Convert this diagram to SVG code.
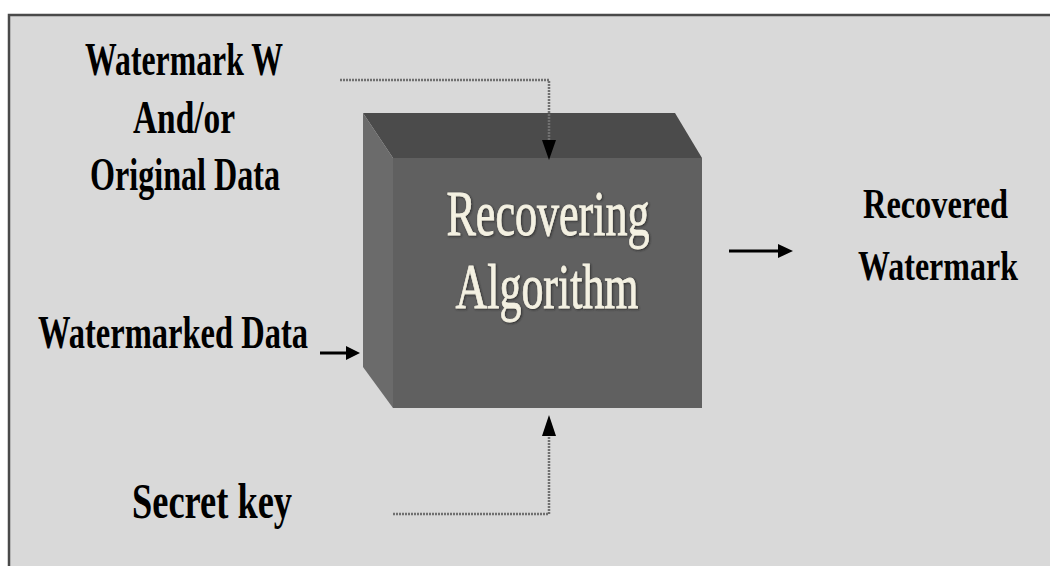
<svg xmlns="http://www.w3.org/2000/svg" width="1050" height="566" viewBox="0 0 1050 566">
<defs>
<style>
.lbl{font-family:"Liberation Serif","Times New Roman",serif;font-weight:bold;fill:#000}
.box{font-family:"Liberation Serif","Times New Roman",serif;fill:#f4f1e2;stroke:#f4f1e2;stroke-width:0.8;font-size:64px}
.conn{fill:none;stroke:#707070;stroke-width:2.5;stroke-dasharray:2 1}
.thick{fill:none;stroke:#000;stroke-width:3}
</style>
<filter id="sh" x="-5%" y="-5%" width="110%" height="110%">
<feDropShadow dx="1" dy="1" stdDeviation="1" flood-color="#222" flood-opacity="0.8"/>
</filter>
</defs>
<rect x="0" y="0" width="1050" height="566" fill="#ffffff"/>
<rect x="9" y="15" width="1041" height="551" fill="#d9d9d9"/>
<path d="M9,566 V15 H1050" fill="none" stroke="#4a4a4a" stroke-width="2.5"/>

<g id="algorithm">
<polygon points="363,113 675,113 702,158 393,158" fill="#4b4b4b"/>
<polygon points="363,113 393,158 393,408 363,367" fill="#6b6b6b"/>
<rect x="393" y="158" width="309" height="250" fill="#606060"/>
<text class="box" x="548" y="235" text-anchor="middle" textLength="203" lengthAdjust="spacingAndGlyphs" filter="url(#sh)">Recovering</text>
<text class="box" x="547" y="308" text-anchor="middle" textLength="183" lengthAdjust="spacingAndGlyphs" filter="url(#sh)">Algorithm</text>
</g>

<g id="input-watermark">
<text class="lbl" font-size="46" x="184" y="75" text-anchor="middle" textLength="198" lengthAdjust="spacingAndGlyphs">Watermark W</text>
<text class="lbl" font-size="46" x="184" y="133" text-anchor="middle" textLength="102" lengthAdjust="spacingAndGlyphs">And/or</text>
<text class="lbl" font-size="46" x="185" y="190" text-anchor="middle" textLength="190" lengthAdjust="spacingAndGlyphs">Original Data</text>
</g>

<g id="input-watermarked">
<text class="lbl" font-size="46" x="38" y="348" textLength="270" lengthAdjust="spacingAndGlyphs">Watermarked Data</text>
</g>

<g id="input-key">
<text class="lbl" font-size="50" x="132" y="518" textLength="160" lengthAdjust="spacingAndGlyphs">Secret key</text>
</g>

<g id="output">
<text class="lbl" font-size="42" x="1008" y="218" text-anchor="end" textLength="145" lengthAdjust="spacingAndGlyphs">Recovered</text>
<text class="lbl" font-size="42" x="1018" y="280" text-anchor="end" textLength="160" lengthAdjust="spacingAndGlyphs">Watermark</text>
</g>

<g id="connectors">
<path class="conn" d="M340,80 H549 V142"/>
<polygon points="542,140 556,140 549,160" fill="#000"/>
<path class="conn" d="M393,514 H549 V434"/>
<polygon points="542,436 556,436 549,415" fill="#000"/>
<line class="thick" x1="320" y1="353" x2="348" y2="353"/>
<polygon points="346,346 346,360 360,353" fill="#000"/>
<line class="thick" x1="729" y1="251" x2="780" y2="251"/>
<polygon points="778,244 778,258 793,251" fill="#000"/>
</g>
</svg>
